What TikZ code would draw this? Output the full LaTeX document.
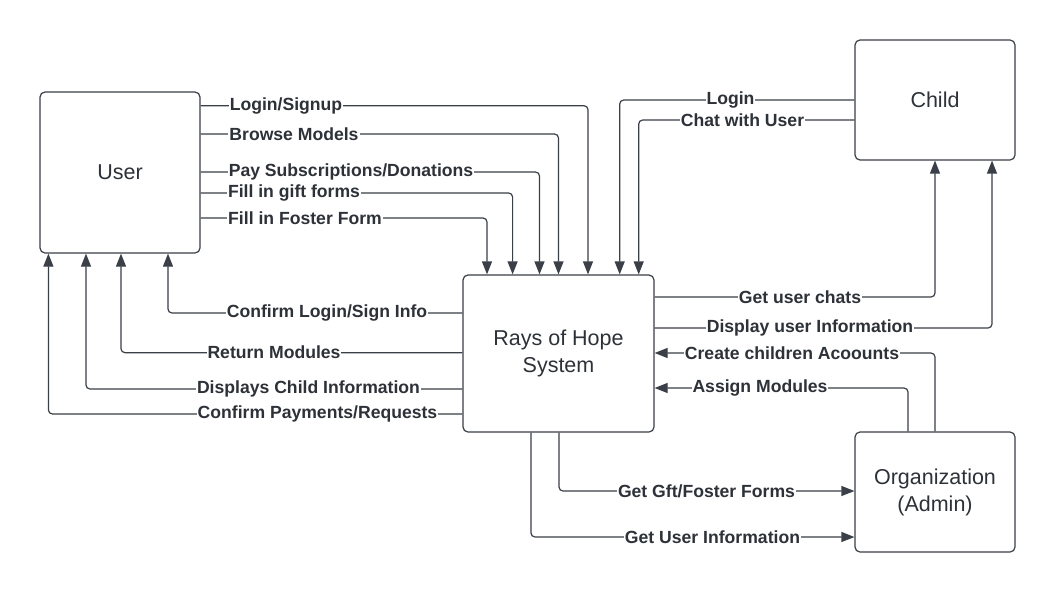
\documentclass[tikz,border=0pt]{standalone}
\usepackage{fontspec}
\setmainfont{Liberation Sans}
\usetikzlibrary{arrows.meta,backgrounds}
\definecolor{ln}{RGB}{58,63,72}
\definecolor{tx}{RGB}{45,49,56}
\tikzset{
  box/.style={draw=ln,line width=1.2pt,rounded corners=5pt,fill=white,
    font=\fontsize{21.5}{27}\selectfont,text=tx,align=center,inner sep=0pt},
  lbl/.style={fill=white,inner xsep=1pt,inner ysep=1pt,text=tx,
    font=\bfseries\fontsize{17.6}{20}\selectfont},
  conn/.style={draw=ln,line width=1.2pt,rounded corners=4pt},
  arr/.style={conn,-{Triangle[length=13pt,width=10pt]}}
}
\begin{document}
\begin{tikzpicture}[x=1pt,y=-1pt]
\useasboundingbox (0,0) rectangle (1056,592);
% boxes
\node[box,minimum width=160pt,minimum height=161pt] (user) at (120,172.5) {User};
\node[box,minimum width=191pt,minimum height=157pt] (rays) at (558.5,353.5) {Rays of Hope\\System};
\node[box,minimum width=160pt,minimum height=120pt] (child) at (935,100) {Child};
\node[box,minimum width=160pt,minimum height=120pt] (org) at (935,492) {Organization\\(Admin)};
% labels
\node[lbl] (l1) at (286,105.7) {Login/Signup};
\node[lbl] (l2) at (294,134) {Browse Models};
\node[lbl] (l3) at (351,172) {Pay Subscriptions/Donations};
\node[lbl] (l4) at (294,193) {Fill in gift forms};
\node[lbl] (l5) at (305,218) {Fill in Foster Form};
\node[lbl] (c1) at (730.5,100) {Login};
\node[lbl] (c2) at (742.5,120) {Chat with User};
\node[lbl] (r1) at (800,297) {Get user chats};
\node[lbl] (r2) at (810,328) {Display user Information};
\node[lbl] (r3) at (792,353) {Create children Acoounts};
\node[lbl] (r4) at (760,388) {Assign Modules};
\node[lbl] (b1) at (706.5,491) {Get Gft/Foster Forms};
\node[lbl] (b2) at (712.5,537) {Get User Information};
\node[lbl] (u1) at (327,313) {Confirm Login/Sign Info};
\node[lbl] (u2) at (274,352.7) {Return Modules};
\node[lbl] (u3) at (308.5,389) {Displays Child Information};
\node[lbl] (u4) at (317.5,414) {Confirm Payments/Requests};
\begin{pgfonlayer}{background}
\fill[white] (0,0) rectangle (1056,592);
% user -> system
\draw[arr] (user.east |- l1) -| (rays.north -| 588,0);
\draw[arr] (user.east |- l2) -| (rays.north -| 558.5,0);
\draw[arr] (user.east |- l3) -| (rays.north -| 539.5,0);
\draw[arr] (user.east |- l4) -| (rays.north -| 512.6,0);
\draw[arr] (user.east |- l5) -| (rays.north -| 487,0);
% child -> system
\draw[arr] (child.west |- c1) -| (rays.north -| 619.7,0);
\draw[arr] (child.west |- c2) -| (rays.north -| 638.7,0);
% system -> child
\draw[arr] (rays.east |- r1) -| (child.south -| 935,0);
\draw[arr] (rays.east |- r2) -| (child.south -| 992,0);
% org -> system
\draw[arr] (org.north -| 935,0) |- (rays.east |- r3);
\draw[arr] (org.north -| 908,0) |- (rays.east |- r4);
% system -> org
\draw[arr] (rays.south -| 559,0) |- (org.west |- b1);
\draw[arr] (rays.south -| 531,0) |- (org.west |- b2);
% system -> user
\draw[arr] (rays.west |- u1) -| (user.south -| 168,0);
\draw[arr] (rays.west |- u2) -| (user.south -| 121,0);
\draw[arr] (rays.west |- u3) -| (user.south -| 86,0);
\draw[arr] (rays.west |- u4) -| (user.south -| 48.4,0);
\end{pgfonlayer}
\end{tikzpicture}
\end{document}
